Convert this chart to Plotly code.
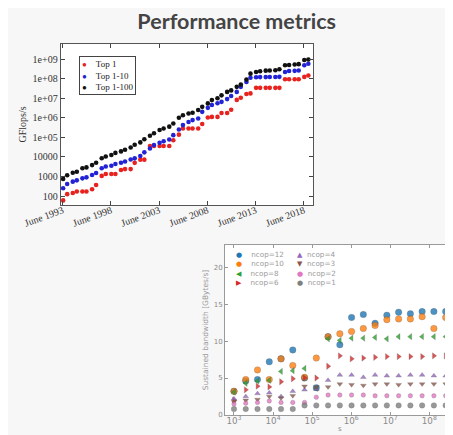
import plotly.graph_objects as go

# ---------------- Chart 1: TOP500 performance ----------------
list_dates = [f"{y}-{m}-15" for y in range(1993, 2019) for m in ("06", "11")]

top1 = [59.7, 124.5, 143.4, 170.4, 170.4, 170.4, 220.4, 368.2, 1068, 1338, 1338, 1338,
        2121, 2379, 2379, 4938, 7226, 7226, 35860, 35860, 35860, 35860, 35860, 70720,
        136800, 280600, 280600, 280600, 280600, 478200, 1026000, 1105000, 1105000,
        1759000, 1759000, 2566000, 8162000, 10510000, 16320000, 17590000,
        33860000, 33860000, 33860000, 33860000, 33860000, 33860000,
        93010000, 93010000, 93010000, 93010000, 122300000, 143500000]

top1_10 = [250, 410, 540, 630, 800, 900, 1180, 1500, 2600, 3200, 3500, 4300,
           5000, 5800, 7400, 8400, 11000, 17000, 27000, 40000, 52000, 63000, 77000, 129000,
           250000, 420000, 610000, 760000, 910000, 2000000, 3200000, 4500000, 5500000,
           6500000, 9000000, 13000000, 21000000, 38000000, 68000000, 110000000,
           118000000, 120000000, 120000000, 121000000, 122000000, 123000000,
           220000000, 245000000, 250000000, 260000000, 480000000, 580000000]

top1_100 = [750, 1150, 1550, 1750, 2600, 2900, 3800, 5000, 8500, 10500, 12500, 16000,
            19000, 23000, 30000, 42000, 55000, 80000, 120000, 160000, 236000, 280000, 350000, 510000,
            1000000, 1350000, 1660000, 1800000, 2500000, 3600000, 5400000, 8000000, 10000000,
            14000000, 21000000, 25000000, 38000000, 50000000, 90000000, 180000000,
            220000000, 240000000, 255000000, 260000000, 270000000, 300000000,
            480000000, 500000000, 530000000, 550000000, 900000000, 950000000]

x1_tickvals = ["1993-06-01", "1998-06-01", "2003-06-01", "2008-06-01", "2013-06-01", "2018-06-01"]
x1_ticktext = ["June 1993", "June 1998", "June 2003", "June 2008", "June 2013", "June 2018"]
y1_tickvals = [1e2, 1e3, 1e4, 1e5, 1e6, 1e7, 1e8, 1e9]
y1_ticktext = ["100", "1000", "10000", "1e+05", "1e+06", "1e+07", "1e+08", "1e+09"]

series1 = [("Top 1", top1, "#e8231f"),
           ("Top 1-10", top1_10, "#2323d6"),
           ("Top 1-100", top1_100, "#111111")]

# ---------------- Chart 2: sustained bandwidth ----------------
sizes = [1000, 2000, 4000, 8000, 16000, 32000, 64000, 128000, 256000, 512000,
         1024000, 2048000, 4096000, 8192000, 16384000, 32768000, 65536000,
         131072000, 262144000]

bw_12 = [3.2, 4.6, 4.8, 7.2, 7.6, 8.8, 5.0, 3.7, 10.6, 9.5, 13.2, 13.6, 12.4, 13.5, 13.9, 13.7, 14.0, 14.0, 14.0]
bw_10 = [3.2, 4.8, 6.1, 4.8, 7.6, 6.7, 5.1, 7.7, 10.6, 11.0, 11.3, 11.7, 12.1, 12.9, 13.0, 13.0, 13.3, 11.7, 13.2]
bw_8 = [3.1, 4.3, 4.6, 4.7, 5.9, 6.0, 6.3, 3.6, 10.3, 10.1, 10.4, 10.4, 10.5, 10.3, 10.6, 10.6, 10.6, 10.6, 10.6]
bw_6 = [2.0, 3.4, 3.9, 3.8, 4.5, 4.9, 5.0, 5.0, 6.6, 8.0, 7.6, 7.7, 7.8, 7.9, 7.9, 7.9, 7.9, 8.0, 8.0]
bw_4 = [2.2, 2.5, 2.9, 3.0, 2.5, 3.2, 3.4, 3.5, 4.7, 5.4, 5.4, 5.1, 5.4, 5.3, 5.3, 5.4, 5.4, 5.3, 5.3]
bw_3 = [1.8, 2.0, 2.1, 2.5, 2.3, 2.6, 3.9, 3.8, 3.8, 4.2, 4.1, 4.0, 4.2, 4.2, 4.1, 4.2, 4.2, 4.2, 4.2]
bw_2 = [1.5, 1.6, 1.7, 1.9, 1.7, 1.7, 1.7, 2.4, 2.7, 2.7, 2.7, 2.7, 2.6, 2.6, 2.6, 2.6, 2.6, 2.6, 2.6]
bw_1 = [0.8, 0.8, 0.8, 0.8, 0.8, 0.8, 1.3, 1.3, 1.3, 1.3, 1.3, 1.3, 1.3, 1.3, 1.3, 1.3, 1.3, 1.3, 1.3]

# name, values, colour, marker symbol, marker size, legend glyph, legend column
series2 = [
    ("ncop=12", bw_12, "#1f77b4", "circle", 6.5, "●", 0),
    ("ncop=10", bw_10, "#ff7f0e", "circle", 6.5, "●", 0),
    ("ncop=8", bw_8, "#2ca02c", "triangle-left", 5.5, "◀", 0),
    ("ncop=6", bw_6, "#d62728", "triangle-right", 5.5, "▶", 0),
    ("ncop=4", bw_4, "#9467bd", "triangle-up", 5, "▲", 1),
    ("ncop=3", bw_3, "#8c564b", "triangle-down", 5, "▼", 1),
    ("ncop=2", bw_2, "#e377c2", "circle", 4.5, "●", 1),
    ("ncop=1", bw_1, "#7f7f7f", "circle", 5.5, "●", 1),
]

fig = go.Figure()

for name, vals, col in series1:
    fig.add_trace(go.Scatter(x=list_dates, y=vals, mode="markers", name=name,
                             marker=dict(color=col, size=4.6),
                             xaxis="x", yaxis="y", showlegend=False))

for name, vals, col, sym, sz, glyph, colno in series2:
    fig.add_trace(go.Scatter(x=sizes, y=vals, mode="markers", name=name,
                             marker=dict(color=col, symbol=sym, size=sz, opacity=0.8,
                                         line=dict(width=0.5, color="rgba(60,60,60,0.5)")),
                             xaxis="x2", yaxis="y2", showlegend=False))

serif = "Liberation Serif, Times New Roman, serif"
sans = "DejaVu Sans, sans-serif"
W, H = 453, 435

# Compact legend boxes, as in the reference
leg1_text = "<br>".join(
    f'<span style="color:{c};font-size:8px">●</span>&nbsp;&nbsp;&nbsp;&nbsp;{n}' for n, _, c in series1)

col_texts = [[], []]
for name, _, col, _, _, glyph, colno in series2:
    gap = "&nbsp;" * (4 if colno == 0 else 2)
    col_texts[colno].append(
        f'<span style="color:{col};font-size:7px">{glyph}</span>{gap}{name}')

annotations = [
    dict(text=leg1_text, xref="paper", yref="paper", x=71 / W, y=1 - 48.5 / H,
         xanchor="left", yanchor="top", align="left", showarrow=False,
         bgcolor="white", bordercolor="#444444", borderwidth=1, borderpad=2,
         font=dict(family=serif, size=9, color="#222222")),
    dict(text="<br>".join(col_texts[0]), xref="paper", yref="paper", x=226.5 / W,
         y=1 - 241 / H, xanchor="left", yanchor="top", align="left", showarrow=False,
         borderpad=0, font=dict(family=sans, size=7.2, color="#9a9a9a")),
    dict(text="<br>".join(col_texts[1]), xref="paper", yref="paper", x=288 / W,
         y=1 - 241 / H, xanchor="left", yanchor="top", align="left", showarrow=False,
         borderpad=0, font=dict(family=sans, size=7.2, color="#9a9a9a")),
    # x-axis title of the second chart
    dict(text="s", xref="paper", yref="paper", x=332 / W, y=1 - 421 / H,
         xanchor="center", yanchor="middle", showarrow=False,
         font=dict(family=sans, size=7, color="#8a8a8a")),
]

fig.update_layout(
    template="none",
    width=W, height=H,
    margin=dict(l=0, r=0, t=0, b=0),
    paper_bgcolor="#f7f7f7",
    plot_bgcolor="white",
    showlegend=False,
    title=dict(text="<b>Performance metrics</b>", x=228.7 / W, xanchor="center",
               y=1, yanchor="top", yref="container", pad=dict(t=6),
               font=dict(family="Lato", size=21.5, color="#444444")),
    xaxis=dict(domain=[52.7 / W, 305 / W], type="date", range=["1993-03-15", "2019-05-10"],
               tickvals=x1_tickvals, ticktext=x1_ticktext, tickangle=-20,
               ticks="inside", ticklen=4, mirror="ticks", showline=True,
               linecolor="#555555", linewidth=1, showgrid=False, zeroline=False,
               ticklabelstandoff=-5,
               tickfont=dict(family=serif, size=10, color="#333333"),
               anchor="y", automargin=False),
    yaxis=dict(domain=[1 - 197 / H, 1 - 36 / H], type="log", range=[1.54, 9.77],
               tickvals=y1_tickvals, ticktext=y1_ticktext,
               ticks="inside", ticklen=4, mirror="ticks", showline=True,
               linecolor="#555555", linewidth=1, showgrid=False, zeroline=False,
               tickfont=dict(family=serif, size=10, color="#333333"),
               title=dict(text="GFlops/s", standoff=4,
                          font=dict(family=serif, size=10, color="#333333")),
               anchor="x", automargin=False),
    xaxis2=dict(domain=[217 / W, 442 / W], type="log", range=[2.77, 8.53], dtick=1,
                exponentformat="power", ticks="inside", ticklen=3, mirror="ticks",
                showline=True, linecolor="#9a9a9a", linewidth=1, showgrid=False,
                zeroline=False, tickcolor="#9a9a9a", ticklabelstandoff=-2,
                tickfont=dict(family=sans, size=7, color="#8a8a8a"),
                anchor="y2", automargin=False),
    yaxis2=dict(domain=[1 - 407 / H, 1 - 237 / H], range=[0, 23], tickvals=[0, 5, 10, 15, 20],
                ticks="inside", ticklen=3, mirror="ticks", showline=True,
                linecolor="#9a9a9a", linewidth=1, showgrid=False, zeroline=False,
                tickcolor="#9a9a9a",
                tickfont=dict(family=sans, size=7, color="#8a8a8a"),
                title=dict(text="Sustained bandwidth [GBytes/s]", standoff=4,
                           font=dict(family=sans, size=7.5, color="#9a9a9a")),
                anchor="x2", automargin=False),
    annotations=annotations,
)

fig.write_html("out.html")
